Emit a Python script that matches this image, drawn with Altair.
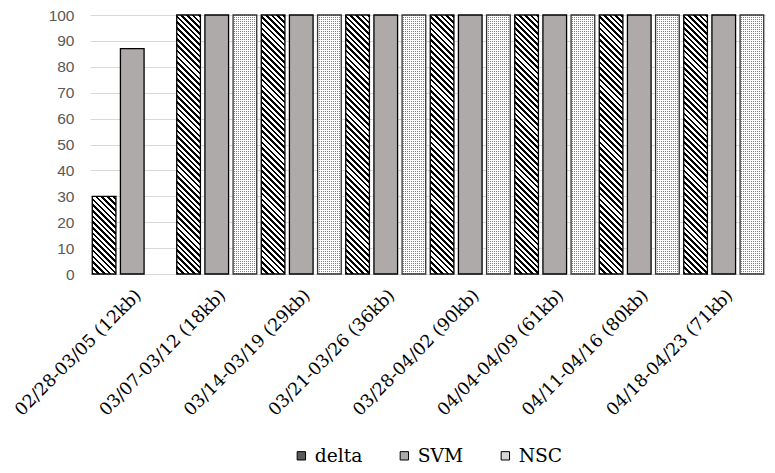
import altair as alt
import pandas as pd

categories = [
    "02/28-03/05 (12kb)", "03/07-03/12 (18kb)", "03/14-03/19 (29kb)",
    "03/21-03/26 (36kb)", "03/28-04/02 (90kb)", "04/04-04/09 (61kb)",
    "04/11-04/16 (80kb)", "04/18-04/23 (71kb)",
]
delta = [30, 100, 100, 100, 100, 100, 100, 100]
svm = [87, 100, 100, 100, 100, 100, 100, 100]
nsc = [None, 100, 100, 100, 100, 100, 100, 100]
series_names = ["delta", "SVM", "NSC"]

rows = []
for i, c in enumerate(categories):
    for s, vals in zip(series_names, [delta, svm, nsc]):
        if vals[i] is not None:
            rows.append({"period": c, "series": s, "value": vals[i]})
df = pd.DataFrame(rows)

W, H = 676, 259
step = W / len(categories)
PAD_IN, PAD_OUT = 0.16, 0.08
sub_step = step / (3 - PAD_IN + 2 * PAD_OUT)
bar_w = sub_step * (1 - PAD_IN)


def stops_for(n, frac, dark, light):
    out = []
    k = 0
    while k < n:
        o0 = k / n
        o1 = min((k + frac) / n, 1.0)
        o2 = min((k + 1) / n, 1.0)
        out += [
            alt.GradientStop(offset=o0, color=dark),
            alt.GradientStop(offset=o1, color=dark),
            alt.GradientStop(offset=o1, color=light),
            alt.GradientStop(offset=o2, color=light),
        ]
        k += 1
    return out


def diag_gradient(h, w=bar_w, period=5.7, frac=0.45):
    a = (w + h) / (w * w + h * h)
    n = (w + h) / period
    return alt.LinearGradient(
        gradient="linear", x1=0, y1=1, x2=a * w, y2=1 - a * h,
        stops=stops_for(n, frac, "#000000", "#ffffff"),
    )


def hstripe_gradient(h, period=2.0):
    return alt.LinearGradient(
        gradient="linear", x1=0, y1=0, x2=0, y2=1,
        stops=stops_for(h / period, 0.5, "#808080", "rgba(255,255,255,0)"),
    )


def vstripe_gradient(w=bar_w, period=2.0):
    return alt.LinearGradient(
        gradient="linear", x1=0, y1=0, x2=1, y2=0,
        stops=stops_for(w / period, 0.5, "#ffffff", "rgba(255,255,255,0)"),
    )


base = alt.Chart().mark_bar(strokeWidth=0).encode(
    color=alt.Color(
        "series:N",
        scale=alt.Scale(domain=series_names, range=["#5a5a5a", "#aeaaaa", "#d6d6d6"]),
        legend=alt.Legend(
            title=None, orient="none", direction="horizontal",
            legendX=202, legendY=431,
            symbolType="square", symbolSize=70,
            symbolStrokeColor="#000000", symbolStrokeWidth=1,
            labelFont="DejaVu Serif", labelFontSize=18.7, labelColor="#000000",
            labelOffset=4, columnPadding=32,
        ),
    )
)

layers = [base]
for v in sorted(set(x for x in delta if x is not None)):
    layers.append(
        alt.Chart().mark_bar(strokeWidth=0, fill=diag_gradient(v / 100 * H))
        .transform_filter((alt.datum.series == "delta") & (alt.datum.value == v))
    )
for v in sorted(set(x for x in nsc if x is not None)):
    flt = (alt.datum.series == "NSC") & (alt.datum.value == v)
    layers.append(alt.Chart().mark_bar(strokeWidth=0, fill="#ffffff").transform_filter(flt))
    layers.append(alt.Chart().mark_bar(strokeWidth=0, fill=hstripe_gradient(v / 100 * H)).transform_filter(flt))
    layers.append(alt.Chart().mark_bar(strokeWidth=0, fill=vstripe_gradient()).transform_filter(flt))

outline = alt.Chart().mark_bar(fillOpacity=0, strokeWidth=1.3).encode(
    stroke=alt.condition(alt.datum.series == "NSC", alt.value("#333333"), alt.value("#000000"))
)
layers.append(outline)

chart = alt.layer(*layers, data=df).encode(
    x=alt.X(
        "period:N", sort=categories,
        scale=alt.Scale(paddingInner=0, paddingOuter=0),
        axis=alt.Axis(
            title=None, labelAngle=-45, labelFont="DejaVu Serif", labelFontSize=17.5,
            labelColor="#000000", ticks=False, domain=False, labelPadding=12,
            labelLimit=400, labelOverlap=False,
        ),
    ),
    xOffset=alt.XOffset(
        "series:N",
        scale=alt.Scale(domain=series_names, paddingInner=PAD_IN, paddingOuter=PAD_OUT),
    ),
    y=alt.Y(
        "value:Q",
        scale=alt.Scale(domain=[0, 100], nice=False),
        axis=alt.Axis(
            title=None, values=list(range(0, 101, 10)), ticks=False, domain=False,
            labelFont="Liberation Sans", labelFontSize=15.5, labelColor="#595959",
            labelPadding=16, gridColor="#d9d9d9", gridWidth=1.2,
        ),
    ),
).properties(
    width=W, height=H, autosize="none",
    padding={"left": 82, "top": 7, "right": 0, "bottom": 191},
).configure_view(stroke=None)

chart.save("out.html", embed_options={"renderer": "svg", "actions": False})
